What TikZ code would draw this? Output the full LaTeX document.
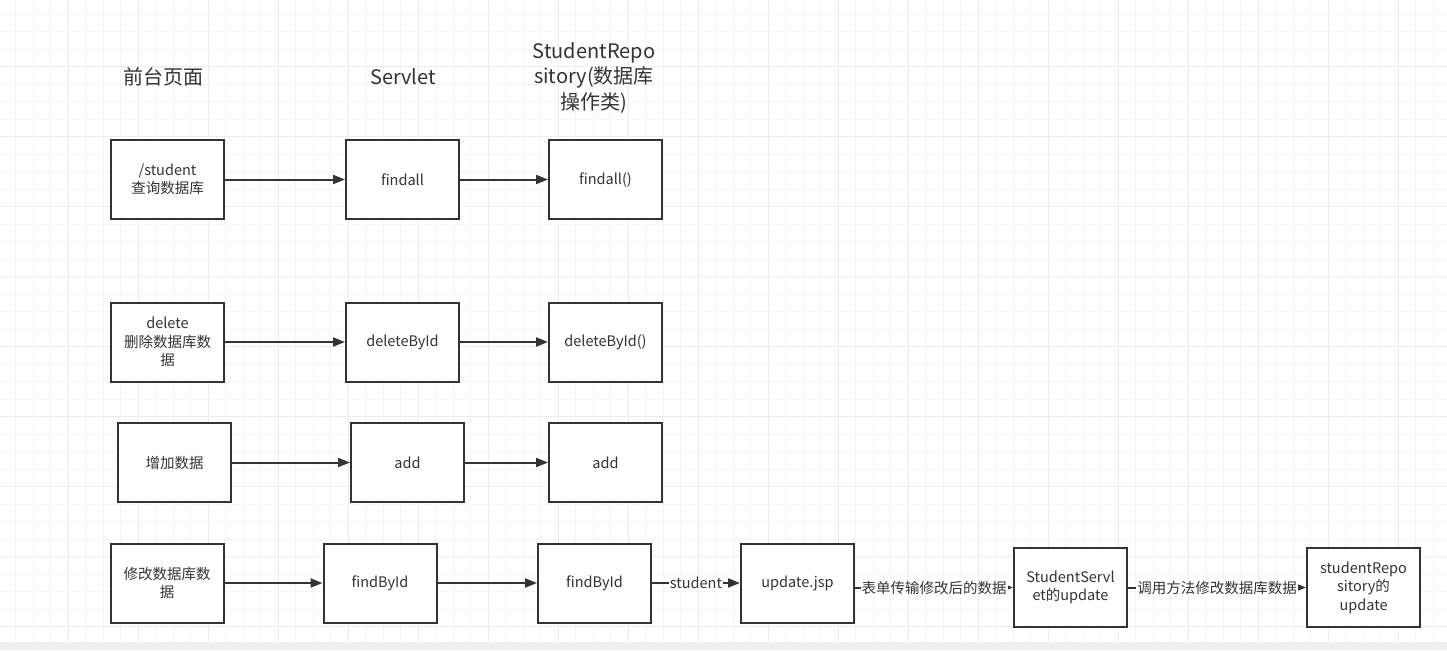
\documentclass[tikz,border=0pt]{standalone}
\usepackage{fontspec}
\setmainfont{Noto Sans CJK SC}
\usetikzlibrary{arrows.meta,calc}
\definecolor{gridminor}{RGB}{244,244,244}
\definecolor{gridmajor}{RGB}{236,236,236}
\definecolor{scrollbar}{RGB}{240,240,240}
\definecolor{ink}{RGB}{51,51,51}
\tikzset{
  box/.style={draw=ink, line width=2pt, fill=white, minimum width=113pt, minimum height=79pt,
    inner sep=2pt, align=center, text=ink, font=\fontsize{14.5}{18.5}\selectfont},
  flow/.style={draw=ink, line width=2pt, -{Triangle[length=12pt,width=9pt]}},
  lbl/.style={fill=white, inner sep=1pt, text=ink, font=\fontsize{14.5}{17}\selectfont},
  head/.style={align=center, text=ink, font=\fontsize{20}{25.5}\selectfont}
}

\begin{document}
\begin{tikzpicture}[x=1pt,y=-1pt]
\useasboundingbox (0,0) rectangle (1447,650);
\fill[white] (0,0) rectangle (1447,650);
\foreach \k in {1,...,82} {
    \draw[gridminor, line width=1pt] ({-1.7+17.5*\k},0) -- ({-1.7+17.5*\k},642);
}
\foreach \k in {1,...,36} {
    \draw[gridminor, line width=1pt] (0,{-3.3+17.5*\k}) -- (1447,{-3.3+17.5*\k});
}
\foreach \k in {1,...,20} {
    \draw[gridmajor, line width=1.5pt] ({-1.7+70*\k},0) -- ({-1.7+70*\k},642);
}
\foreach \k in {1,...,9} {
    \draw[gridmajor, line width=1.5pt] (0,{-3.3+70*\k}) -- (1447,{-3.3+70*\k});
}
\fill[scrollbar] (0,642) rectangle (1447,650);

\node[head] (hA) at (163,77) {前台页面};
\node[head] (hB) at (403,77) {Servlet};
\node[head] (hC) at (594,78) {StudentRepo\\sitory(数据库\\操作类)};

\node[box] (A1) at (167.5,179.5) {/student\\查询数据库};
\node[box] (B1) at (402.5,179.5) {findall};
\node[box] (C1) at (605.5,179.5) {findall()};

\node[box] (A2) at (167.5,342) {delete\\删除数据库数\\据};
\node[box] (B2) at (402.5,342) {deleteById};
\node[box] (C2) at (605.5,342) {deleteById()};

\node[box] (A3) at (174.5,462.5) {增加数据};
\node[box] (B3) at (407.5,462.5) {add};
\node[box] (C3) at (605.5,462.5) {add};

\node[box] (A4) at (167,583) {修改数据库数\\据};
\node[box] (B4) at (380,583) {findById};
\node[box] (C4) at (594.5,583) {findById};
\node[box] (D4) at (797.5,583) {update.jsp};
\node[box] (E4) at (1070.5,587.5) {StudentServl\\et的update};
\node[box] (F4) at (1363.5,587.5) {studentRepo\\sitory的\\update};

\foreach \s/\t in {A1/B1,B1/C1,A2/B2,B2/C2,A3/B3,B3/C3,A4/B4,B4/C4} {
    \draw[flow] (\s) -- (\t);
}
\draw[flow] (C4) -- (D4) node[lbl,midway] {student};
\draw[flow] (D4.east |- E4) -- (E4) node[lbl,midway] {表单传输修改后的数据};
\draw[flow] (E4) -- (F4) node[lbl,midway] {调用方法修改数据库数据};
\end{tikzpicture}
\end{document}
